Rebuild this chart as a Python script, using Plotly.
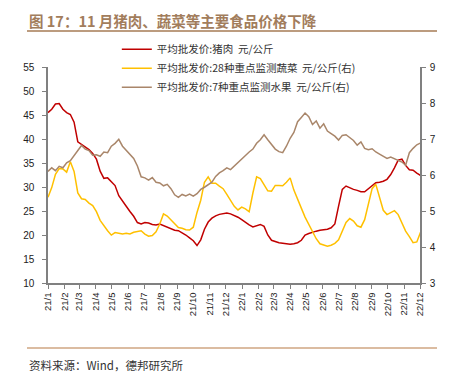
import pandas as pd
import plotly.graph_objects as go

# weekly observation dates
dates = pd.date_range("2021-01-01", periods=101, freq="7D")

pork = [45.5, 46.2, 47.3, 47.4, 46.2, 45.5, 45.1, 43.5, 39.4, 38.9,
        38.3, 37.8, 37.0, 35.8, 33.3, 31.8, 31.9, 31.0, 30.3, 28.2,
        27.0, 26.0, 24.9, 23.9, 22.6, 22.3, 22.6, 22.5, 22.2, 22.1,
        22.3, 22.0, 21.7, 21.3, 21.0, 20.9, 20.5, 20.0, 19.4, 18.8,
        17.8, 19.0, 21.2, 22.7, 23.5, 24.0, 24.3, 24.5, 24.6, 24.4,
        24.1, 23.7, 23.2, 22.6, 22.1, 21.7, 22.0, 22.2, 21.8, 20.0,
        18.9, 18.6, 18.4, 18.3, 18.2, 18.1, 18.2, 18.4, 18.9, 20.0,
        20.3, 20.6, 20.8, 21.0, 21.1, 21.2, 21.5, 22.3, 26.0, 29.5,
        30.2, 29.8, 29.5, 29.3, 29.0, 29.0, 29.7, 30.4, 30.9, 31.0,
        31.2, 31.6, 32.6, 34.0, 35.6, 35.8, 34.5, 33.6, 33.5, 32.9,
        32.4]

veg = [5.38, 5.65, 6.02, 6.18, 6.17, 6.08, 6.37, 6.10, 5.50, 5.34,
       5.32, 5.22, 5.15, 4.98, 4.74, 4.58, 4.45, 4.33, 4.40, 4.38,
       4.36, 4.38, 4.36, 4.41, 4.44, 4.45, 4.36, 4.30, 4.32, 4.42,
       4.64, 4.92, 4.86, 4.76, 4.66, 4.54, 4.52, 4.48, 4.47, 4.55,
       4.96, 5.30, 5.80, 5.95, 5.77, 5.77, 5.69, 5.62, 5.46, 5.29,
       5.13, 5.03, 5.11, 5.06, 4.98, 5.50, 5.95, 5.90, 5.72, 5.56,
       5.55, 5.71, 5.71, 5.70, 5.80, 5.92, 5.58, 5.30, 5.08, 4.83,
       4.62, 4.41, 4.23, 4.09, 4.05, 4.02, 4.05, 4.10, 4.20, 4.45,
       4.68, 4.79, 4.72, 4.59, 4.55, 4.76, 5.16, 5.62, 5.74, 5.36,
       5.02, 4.90, 4.95, 5.01, 4.90, 4.68, 4.44, 4.29, 4.12, 4.14,
       4.41]

fruit = [6.10, 6.20, 6.12, 6.24, 6.20, 6.34, 6.40, 6.55, 6.70, 6.82,
         6.72, 6.68, 6.55, 6.56, 6.52, 6.64, 6.62, 6.80, 6.88, 6.99,
         6.80, 6.68, 6.58, 6.46, 6.25, 5.95, 5.92, 5.86, 5.93, 5.80,
         5.78, 5.70, 5.74, 5.62, 5.45, 5.38, 5.46, 5.42, 5.47, 5.41,
         5.48, 5.60, 5.66, 5.74, 5.80, 5.96, 6.06, 6.12, 6.20, 6.15,
         6.25, 6.34, 6.44, 6.56, 6.64, 6.72, 6.88, 6.98, 7.12, 6.98,
         6.84, 6.72, 6.65, 6.62, 6.80, 7.02, 7.18, 7.48, 7.60, 7.72,
         7.62, 7.40, 7.50, 7.30, 7.42, 7.22, 7.15, 7.08, 6.97, 7.10,
         7.12, 7.04, 6.96, 6.83, 6.92, 6.74, 6.70, 6.73, 6.64, 6.58,
         6.52, 6.46, 6.50, 6.45, 6.40, 6.36, 6.27, 6.62, 6.74, 6.84,
         6.89]

tick_dates = pd.date_range("2021-01-01", "2022-12-01", freq="MS")
tick_labels = ["21/1", "21/2", "21/3", "21/4", "21/5", "21/6", "21/7", "21/8",
               "21/9", "21/10", "21/11", "21/12", "22/1", "22/2", "22/3", "22/4",
               "22/5", "22/6", "22/7", "22/8", "22/9", "22/10", "22/11", "22/12"]

names = ["平均批发价:猪肉  元/公斤",
         "平均批发价:28种重点监测蔬菜  元/公斤(右)",
         "平均批发价:7种重点监测水果  元/公斤(右)"]
colors = ["#C00000", "#FFC000", "#A9866A"]

title = "图 17：11 月猪肉、蔬菜等主要食品价格下降"
source = "资料来源：Wind，德邦研究所"

CJK = "Noto Sans CJK SC"
LAT = "Liberation Sans"

fig = go.Figure()
fig.add_trace(go.Scatter(x=dates, y=pork, name=names[0], mode="lines",
                         line=dict(color=colors[0], width=1.5)))
fig.add_trace(go.Scatter(x=dates, y=veg, name=names[1], mode="lines", yaxis="y2",
                         line=dict(color=colors[1], width=1.5)))
fig.add_trace(go.Scatter(x=dates, y=fruit, name=names[2], mode="lines", yaxis="y2",
                         line=dict(color=colors[2], width=1.5)))

axis_col = "#808080"
fig.update_layout(
    width=461, height=378,
    margin=dict(l=48, r=41, t=67, b=95),
    paper_bgcolor="white", plot_bgcolor="white",
    showlegend=True,
    legend=dict(x=0.185, y=1.149, xanchor="left", yanchor="top",
                bgcolor="rgba(0,0,0,0)",
                font=dict(family=CJK, size=10.5, color="#333333"),
                tracegroupgap=0, itemwidth=30),
    xaxis=dict(type="date", range=["2021-01-01", "2022-12-01"],
               tickvals=list(tick_dates), ticktext=tick_labels, tickangle=-90,
               showgrid=False, zeroline=False, showline=True, linecolor=axis_col,
               linewidth=1.5, ticks="outside", ticklen=4, tickcolor=axis_col,
               tickfont=dict(family=LAT, size=9.5, color="#222222")),
    yaxis=dict(range=[10, 55], dtick=5, showgrid=False, zeroline=False,
               showline=True, linecolor=axis_col, linewidth=1.5,
               ticks="outside", ticklen=4, tickcolor=axis_col,
               ticklabelstandoff=6,
               tickfont=dict(family=LAT, size=10, color="#222222")),
    yaxis2=dict(range=[3, 9], dtick=1, overlaying="y", side="right",
                showgrid=False, zeroline=False, showline=True, linecolor=axis_col,
                linewidth=1.5, ticks="outside", ticklen=4, tickcolor=axis_col,
                ticklabelstandoff=2,
                tickfont=dict(family=LAT, size=10, color="#222222")),
    shapes=[
        dict(type="line", xref="paper", yref="paper", x0=-0.0565, x1=1.0457,
             y0=1.1667, y1=1.1667, line=dict(color="#A67B55", width=1.5)),
        dict(type="line", xref="paper", yref="paper", x0=-0.0565, x1=1.0457,
             y0=-0.3009, y1=-0.3009, line=dict(color="#B87A45", width=1.2)),
    ],
    annotations=[
        dict(text="<b>" + title + "</b>", xref="paper", yref="paper",
             x=-0.0565, y=1.216, xanchor="left", yanchor="middle", showarrow=False,
             font=dict(family=CJK, size=14.5, color="#A27D5C")),
        dict(text=source, xref="paper", yref="paper", x=-0.0565, y=-0.378,
             xanchor="left", yanchor="middle", showarrow=False,
             font=dict(family=CJK, size=11.5, color="#333333")),
    ],
)

fig.write_html("out.html", config={"displayModeBar": False},
               post_script="document.body.style.margin='0';")
